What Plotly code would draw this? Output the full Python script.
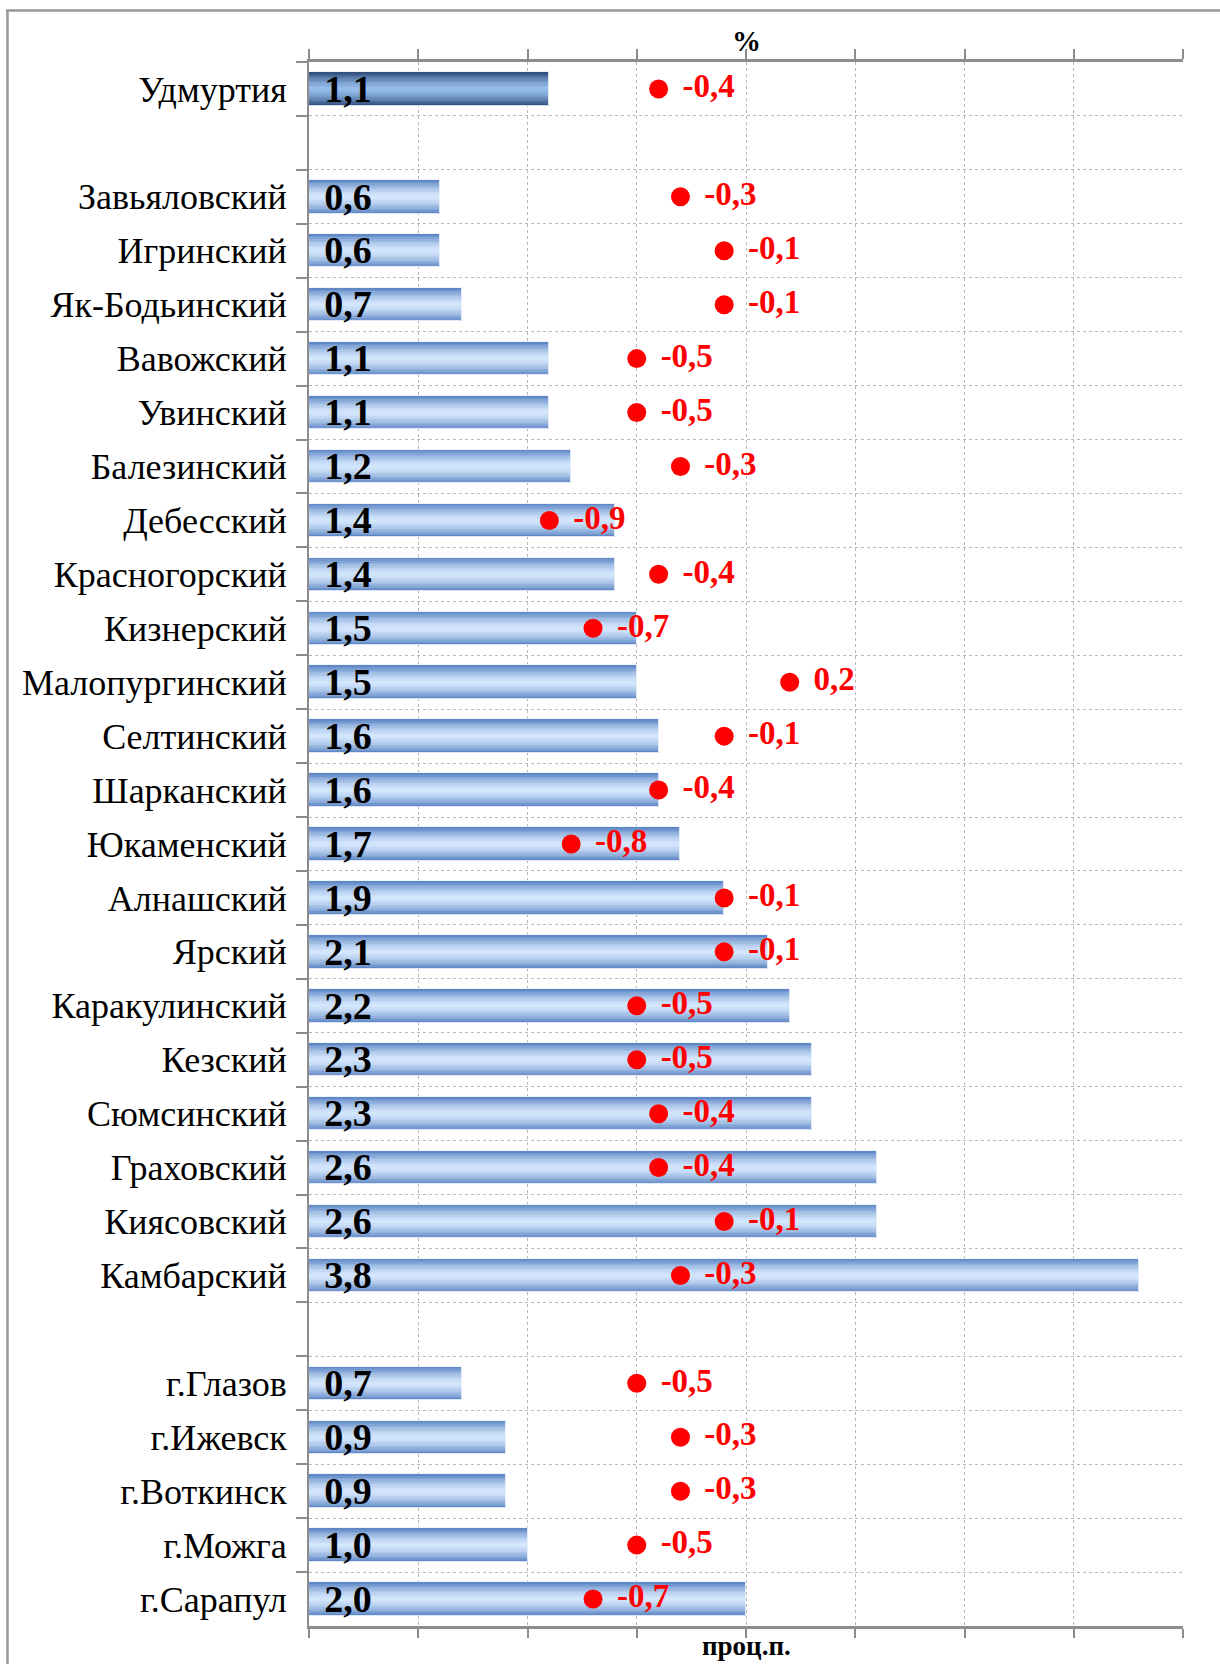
import plotly.graph_objects as go

# ---------------- data ----------------
categories = [
    "Удмуртия", " ",
    "Завьяловский", "Игринский", "Як-Бодьинский", "Вавожский", "Увинский",
    "Балезинский", "Дебесский", "Красногорский", "Кизнерский", "Малопургинский",
    "Селтинский", "Шарканский", "Юкаменский", "Алнашский", "Ярский",
    "Каракулинский", "Кезский", "Сюмсинский", "Граховский", "Киясовский",
    "Камбарский", "  ",
    "г.Глазов", "г.Ижевск", "г.Воткинск", "г.Можга", "г.Сарапул",
]
levels = [
    1.1, None,
    0.6, 0.6, 0.7, 1.1, 1.1,
    1.2, 1.4, 1.4, 1.5, 1.5,
    1.6, 1.6, 1.7, 1.9, 2.1,
    2.2, 2.3, 2.3, 2.6, 2.6,
    3.8, None,
    0.7, 0.9, 0.9, 1.0, 2.0,
]
changes = [
    -0.4, None,
    -0.3, -0.1, -0.1, -0.5, -0.5,
    -0.3, -0.9, -0.4, -0.7, 0.2,
    -0.1, -0.4, -0.8, -0.1, -0.1,
    -0.5, -0.5, -0.4, -0.4, -0.1,
    -0.3, None,
    -0.5, -0.3, -0.3, -0.5, -0.7,
]
top_axis_title = "%"
bottom_axis_title = "проц.п."

# ---------------- styling ----------------
W, H = 1220, 1664
ML, MR, MT, MB = 309, 37, 62, 38
PW, PH = W - ML - MR, H - MT - MB
FONT = "Liberation Serif"
GRAY = "#8c8c8c"
GRID = "#b8b8b8"

def fmt(v):
    return None if v is None else f"{v:.1f}".replace(".", ",")

def lerp(c1, c2, t):
    return "rgb(%d,%d,%d)" % tuple(round(a + (b - a) * t) for a, b in zip(c1, c2))

norm_edge, norm_center = (86, 129, 193), (212, 230, 252)
main_edge, main_center = (42, 72, 118), (150, 188, 236)

fig = go.Figure()

BW = 0.62
N = 10
for k in range(N):
    frac = 1 - k / N
    d = frac - 0.5 / N
    t = d ** 1.5
    cols = []
    for i, c in enumerate(categories):
        if i == 0:
            cols.append(lerp(main_center, main_edge, t))
        else:
            cols.append(lerp(norm_center, norm_edge, t))
    fig.add_trace(go.Bar(
        x=levels, y=categories, orientation="h",
        width=BW * frac,
        marker=dict(color=cols, line=dict(width=0)),
        xaxis="x", yaxis="y", hoverinfo="skip", showlegend=False,
    ))

# transparent top bar carrying the value labels
fig.add_trace(go.Bar(
    x=levels, y=categories, orientation="h", width=BW,
    marker=dict(color="rgba(0,0,0,0)", line=dict(width=1, color="rgba(235,242,252,0.9)")),
    text=[fmt(v) for v in levels],
    texttemplate="\u00a0\u200a%{text}",
    textposition="inside", insidetextanchor="start", textangle=0,
    constraintext="none",
    textfont=dict(family=FONT, size=38, color="black", weight="bold"),
    xaxis="x", yaxis="y", hoverinfo="skip", showlegend=False,
))

# change points
fig.add_trace(go.Scatter(
    x=changes, y=categories, xaxis="x2", yaxis="y",
    mode="markers+text",
    marker=dict(size=19, color="#ff0000"),
    text=[fmt(v) for v in changes],
    texttemplate="\u00a0\u200a%{text}",
    textposition="middle right",
    textfont=dict(family=FONT, size=33, color="#ff0000", weight="bold"),
    cliponaxis=False, hoverinfo="skip", showlegend=False,
))

# frame lines (chart border, top & left visible)
def px_x(p):
    return (p - ML) / PW

def px_y(p):
    return 1 - (p - MT) / PH

fig.add_shape(type="line", xref="paper", yref="paper",
              x0=px_x(6), x1=px_x(W + 5), y0=px_y(10.5), y1=px_y(10.5),
              line=dict(color="#989898", width=2.5))
fig.add_shape(type="line", xref="paper", yref="paper",
              x0=px_x(7.5), x1=px_x(7.5), y0=px_y(10), y1=px_y(H + 5),
              line=dict(color="#989898", width=2.5))

# axis titles
fig.add_annotation(text="<b>" + top_axis_title + "</b>", xref="paper", yref="paper",
                   x=0.5, y=1, xanchor="center", yanchor="middle", yshift=21,
                   showarrow=False, font=dict(size=29, family=FONT, color="black"))
fig.add_annotation(text="<b>" + bottom_axis_title + "</b>", xref="paper", yref="paper",
                   x=0.5, y=0, xanchor="center", yanchor="middle", yshift=-20,
                   showarrow=False, font=dict(size=27, family=FONT, color="black"))

fig.update_layout(
    width=W, height=H,
    margin=dict(l=ML, r=MR, t=MT, b=MB, pad=0, autoexpand=False),
    paper_bgcolor="white", plot_bgcolor="white",
    barmode="overlay", bargap=0,
    font=dict(family=FONT, color="black"),
    xaxis=dict(
        range=[0, 4], tick0=0, dtick=0.5, side="top", anchor="y",
        showticklabels=False, ticks="outside", ticklen=10, tickwidth=2, tickcolor=GRAY,
        showline=True, linecolor=GRAY, linewidth=3,
        showgrid=True, gridcolor=GRID, gridwidth=1, griddash="dot",
        zeroline=False, fixedrange=True, automargin=False,
    ),
    xaxis2=dict(
        range=[-2, 2], tick0=0, dtick=0.5, side="bottom", anchor="y", overlaying="x",
        showticklabels=False, ticks="outside", ticklen=9, tickwidth=2, tickcolor=GRAY,
        showline=True, linecolor=GRAY, linewidth=3,
        showgrid=False, zeroline=False, fixedrange=True, automargin=False,
    ),
    yaxis=dict(
        type="category", categoryorder="array", categoryarray=categories,
        range=[len(categories) - 0.5, -0.5],
        tickson="boundaries", ticks="outside", ticklen=11, tickwidth=2, tickcolor=GRAY,
        ticklabelstandoff=13,
        showline=True, linecolor=GRAY, linewidth=2,
        showgrid=True, gridcolor=GRID, gridwidth=1, griddash="dot",
        tickfont=dict(size=36, family=FONT, color="black"),
        zeroline=False, fixedrange=True, automargin=False,
    ),
)

fig.write_html("out.html", config={"displayModeBar": False},
               post_script="document.body.style.margin='0px';")
